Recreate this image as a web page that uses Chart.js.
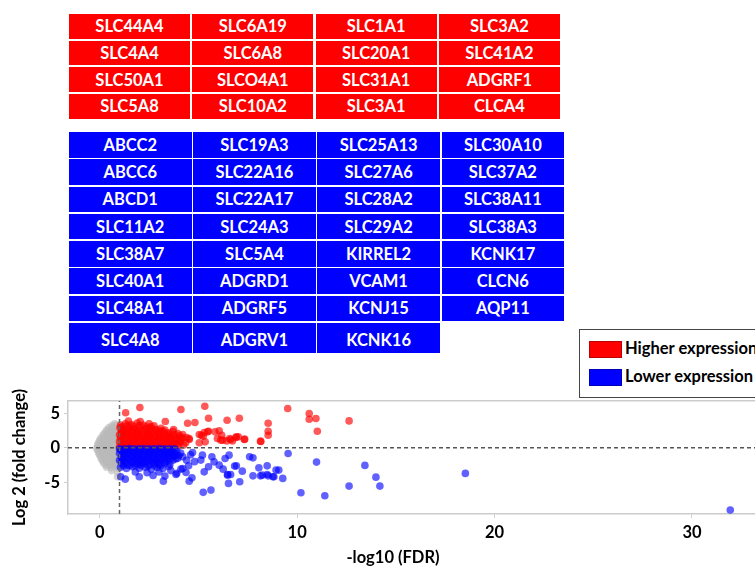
<!DOCTYPE html>
<html>
<head>
<meta charset="utf-8">
<script src="https://cdn.jsdelivr.net/npm/chart.js@4"></script>
<style>
  body { margin: 0; width: 755px; height: 567px; overflow: hidden; background: #fff; font-family: Lato, "Open Sans", sans-serif; position: relative; }
  .genes { position: absolute; left: 69px; display: grid; background: #fff; }
  .genes div { color: #fff; font-weight: bold; font-size: 16.5px; display: flex; align-items: center; justify-content: center; }
  #upTable { top: 14px; grid-template-columns: repeat(4, 121px); grid-template-rows: repeat(4, 24.7px); gap: 2px 2.3px; }
  #upTable div { background: #ff0000; }
  #downTable { top: 132px; grid-template-columns: repeat(4, 122.5px); grid-template-rows: repeat(7, 25.6px) 30px; gap: 1.7px 1.7px; }
  #downTable div { background: #0000ff; }
  #downTable div.last { padding-top: 5px; }
  #legend { position: absolute; left: 579px; top: 329px; width: 200px; height: 67px; border: 1px solid #444; background: #fff; font-weight: bold; font-size: 16.5px; }
  #legend .sw { position: absolute; left: 9px; width: 31px; height: 15px; border: 1px solid rgba(0,0,0,0.25); }
  #legend .lab { position: absolute; left: 45px; }
  #volcano { position: absolute; left: 0; top: 380px; }
  #xTitle { position: absolute; left: 393px; top: 547px; transform: translateX(-50%); font-weight: bold; font-size: 16.5px; }
</style>
</head>
<body>
<div id="upTable" class="genes"></div>
<div id="downTable" class="genes"></div>
<div id="legend">
  <div class="sw" style="top:11px;background:#ff0000"></div><div class="lab" style="top:8px">Higher expression</div>
  <div class="sw" style="top:39px;background:#0000ff"></div><div class="lab" style="top:36px">Lower expression</div>
</div>
<canvas id="volcano" width="800" height="187"></canvas>
<div id="xTitle">-log10 (FDR)</div>
<script>
// gene lists (row by row, 4 per row)
const upGenes = ["SLC44A4","SLC6A19","SLC1A1","SLC3A2",
  "SLC4A4","SLC6A8","SLC20A1","SLC41A2",
  "SLC50A1","SLCO4A1","SLC31A1","ADGRF1",
  "SLC5A8","SLC10A2","SLC3A1","CLCA4"];
const downGenes = ["ABCC2","SLC19A3","SLC25A13","SLC30A10",
  "ABCC6","SLC22A16","SLC27A6","SLC37A2",
  "ABCD1","SLC22A17","SLC28A2","SLC38A11",
  "SLC11A2","SLC24A3","SLC29A2","SLC38A3",
  "SLC38A7","SLC5A4","KIRREL2","KCNK17",
  "SLC40A1","ADGRD1","VCAM1","CLCN6",
  "SLC48A1","ADGRF5","KCNJ15","AQP11",
  "SLC4A8","ADGRV1","KCNK16"];

// volcano points [ -log10(FDR), log2FC ]
const grayPts = [
  [0.6,3.2],[0.85,3.3],[0.75,3.5],[0.45,2.9],[0.7,2.95],
  [0.35,2.6],[0.55,2.7],[0.8,2.5],[0.95,2.8],
  [0.3,2.3],[0.5,2.4],[0.7,2.3],[0.9,2.45],
  [0.2,2.0],[0.4,2.1],[0.6,1.9],[0.8,2.05],[0.95,2.2],
  [0.15,1.75],[0.35,1.8],[0.55,1.65],[0.75,1.7],[0.95,1.8],
  [0.05,1.4],[0.25,1.5],[0.45,1.3],[0.65,1.45],[0.85,1.35],[0.98,1.5],
  [0.0,1.1],[0.2,1.15],[0.4,1.05],[0.6,1.1],[0.8,1.05],[0.97,1.2],
  [-0.05,0.8],[0.15,0.9],[0.35,0.7],[0.55,0.85],[0.75,0.75],[0.92,0.9],
  [-0.1,0.5],[0.1,0.55],[0.3,0.45],[0.5,0.55],[0.7,0.45],[0.9,0.6],
  [-0.12,0.2],[0.08,0.3],[0.3,0.15],[0.5,0.25],[0.7,0.1],[0.9,0.3],
  [-0.15,-0.1],[0.05,-0.05],[0.25,-0.1],[0.45,-0.05],[0.65,-0.15],[0.85,-0.05],
  [-0.1,-0.4],[0.1,-0.3],[0.3,-0.45],[0.5,-0.35],[0.7,-0.5],[0.9,-0.3],
  [-0.05,-0.7],[0.15,-0.75],[0.35,-0.7],[0.55,-0.75],[0.75,-0.7],[0.95,-0.7],
  [-0.02,-1.0],[0.18,-1.1],[0.4,-0.95],[0.6,-1.05],[0.8,-0.9],[0.97,-1.1],
  [0.05,-1.3],[0.25,-1.35],[0.45,-1.3],[0.65,-1.35],[0.85,-1.25],
  [0.08,-1.6],[0.28,-1.7],[0.5,-1.55],[0.7,-1.65],[0.9,-1.5],
  [0.15,-1.9],[0.35,-1.95],[0.55,-1.85],[0.75,-1.95],[0.95,-1.85],
  [0.2,-2.2],[0.42,-2.3],[0.62,-2.15],[0.85,-2.25],[0.98,-2.1],
  [0.3,-2.5],[0.5,-2.55],[0.7,-2.45],[0.9,-2.55],
  [0.35,-2.8],[0.58,-2.9],[0.8,-2.7],[0.95,-3.0],
  [0.6,-3.3],[0.9,-3.5],[0.9,-4.2]
];
const upPts = [
  // dense part
  [1.05,3.3],[1.3,3.5],[1.6,3.4],[1.9,3.6],[2.2,3.3],[2.5,3.5],[2.75,3.2],[1.45,3.9],[2.05,3.8],
  [1.15,3.1],[1.4,3.2],[1.7,3.15],[2.0,3.25],[2.35,3.05],[2.6,3.1],
  [1.02,2.9],[1.25,2.7],[1.5,3.0],[1.75,2.8],[2.0,2.95],[2.3,2.75],[2.55,2.9],[2.85,2.7],[3.1,2.85],[3.3,2.6],
  [1.15,2.55],[1.4,2.6],[1.7,2.65],[1.95,2.55],[2.25,2.6],[2.5,2.5],[2.8,2.55],[3.05,2.5],
  [1.1,2.4],[1.35,2.2],[1.6,2.5],[1.85,2.3],[2.1,2.45],[2.4,2.2],[2.65,2.4],[2.95,2.25],[3.2,2.4],[3.45,2.2],[3.7,2.35],
  [1.1,2.1],[1.35,2.05],[1.6,2.15],[1.9,2.1],[2.15,2.0],[2.45,2.05],[2.75,2.1],[3.0,2.05],[3.3,2.1],[3.55,2.0],
  [1.0,1.9],[1.2,1.75],[1.45,2.0],[1.7,1.8],[1.95,1.95],[2.2,1.7],[2.5,1.9],[2.8,1.75],[3.05,1.95],[3.3,1.8],[3.55,1.7],[3.8,1.9],[4.05,1.75],
  [1.15,1.6],[1.4,1.65],[1.65,1.55],[1.9,1.6],[2.25,1.55],[2.5,1.65],[2.75,1.5],[3.0,1.6],[3.3,1.55],[3.55,1.6],[3.85,1.55],
  [1.05,1.4],[1.3,1.25],[1.55,1.5],[1.8,1.3],[2.05,1.45],[2.35,1.2],[2.6,1.4],[2.9,1.25],[3.15,1.5],[3.4,1.3],[3.65,1.45],[3.9,1.2],[4.15,1.35],[4.4,1.5],
  [1.15,1.1],[1.4,1.05],[1.7,1.1],[1.95,1.15],[2.2,1.05],[2.45,1.1],[2.75,1.05],[3.0,1.15],[3.25,1.1],[3.5,1.05],[3.8,1.1],[4.05,1.05],
  [1.0,0.9],[1.25,0.75],[1.5,1.0],[1.75,0.8],[2.0,0.95],[2.25,0.7],[2.55,0.9],[2.8,0.75],[3.05,1.0],[3.35,0.8],[3.6,0.95],[3.85,0.7],[4.1,0.9],[4.35,0.75],
  [1.15,0.6],[1.4,0.55],[1.7,0.65],[1.95,0.6],[2.3,0.55],[2.6,0.6],[2.9,0.55],[3.15,0.65],[3.45,0.6],[3.7,0.55],[3.95,0.6],
  [1.1,0.4],[1.35,0.25],[1.6,0.5],[1.9,0.3],[2.15,0.45],[2.45,0.2],[2.7,0.4],[3.0,0.3],[3.25,0.5],[3.5,0.25],[3.75,0.45],[4.0,0.3],[4.25,0.4],
  [1.0,0.15],[1.25,0.12],[1.5,0.15],[1.75,0.1],[2.05,0.15],[2.3,0.12],[2.6,0.15],[2.85,0.1],[3.15,0.15],[3.4,0.12],[3.65,0.1],
  // scattered
  [1.31,5.1],[2.03,5.85],[4.11,5.56],[5.32,6.04],[3.32,3.83],[4.45,3.58],[4.82,3.68],[5.51,4.3],[6.45,4.01],[7.07,4.3],
  [8.53,3.58],[8.53,2.42],[8.53,1.84],[8.16,0.93],[9.52,5.71],[10.61,4.99],[10.61,4.16],[10.95,4.26],[11.02,2.42],[12.63,3.91],
  [3.74,2.67],[3.95,2.09],[4.17,1.5],[4.53,1.22],[5.04,1.94],[5.24,1.7],[5.46,2.32],[5.84,2.32],[6.05,2.46],[6.18,1.84],
  [6.22,1.12],[6.43,1.01],[6.63,1.22],[6.89,1.5],[7.02,1.6],[7.32,1.22],[5.04,0.73],[5.34,0.87],[4.2,1.94],[4.53,1.36],
  [5.15,1.84],[5.29,2.23],[5.51,2.42],[5.96,1.36],[6.13,1.12],[6.58,1.36],[6.72,1.01],[6.92,1.6],[7.34,1.26],[8.14,0.97]
];
const downPts = [
  // dense part
  [1.0,-0.12],[1.25,-0.15],[1.5,-0.1],[1.75,-0.12],[2.0,-0.15],[2.25,-0.1],[2.5,-0.12],[2.75,-0.15],[3.0,-0.1],[3.3,-0.12],[3.55,-0.15],[3.8,-0.12],
  [1.05,-0.3],[1.3,-0.45],[1.55,-0.2],[1.8,-0.4],[2.05,-0.25],[2.35,-0.5],[2.6,-0.3],[2.9,-0.45],[3.15,-0.2],[3.4,-0.4],[3.65,-0.3],[3.9,-0.5],
  [1.15,-0.6],[1.4,-0.55],[1.65,-0.6],[1.95,-0.55],[2.2,-0.6],[2.45,-0.65],[2.7,-0.6],[3.0,-0.55],[3.25,-0.6],[3.5,-0.6],[3.75,-0.65],
  [1.0,-0.8],[1.25,-0.95],[1.5,-0.7],[1.75,-0.9],[2.0,-0.75],[2.3,-1.0],[2.55,-0.8],[2.8,-0.95],[3.1,-0.7],[3.35,-0.9],[3.6,-0.8],[3.85,-1.0],[4.1,-0.75],
  [1.15,-1.1],[1.4,-1.05],[1.65,-1.15],[1.9,-1.1],[2.15,-1.05],[2.45,-1.15],[2.7,-1.1],[2.95,-1.05],[3.25,-1.1],[3.5,-1.15],[3.75,-1.05],[4.0,-1.1],
  [1.1,-1.3],[1.35,-1.45],[1.6,-1.2],[1.85,-1.4],[2.1,-1.25],[2.4,-1.5],[2.65,-1.3],[2.95,-1.45],[3.2,-1.2],[3.45,-1.4],[3.7,-1.25],[3.95,-1.5],[4.2,-1.3],
  [1.15,-1.6],[1.4,-1.55],[1.7,-1.6],[1.95,-1.55],[2.2,-1.65],[2.45,-1.6],[2.75,-1.55],[3.0,-1.6],[3.3,-1.55],[3.55,-1.65],[3.85,-1.6],
  [1.0,-1.8],[1.25,-1.95],[1.5,-1.7],[1.8,-1.9],[2.05,-1.75],[2.3,-2.0],[2.6,-1.8],[2.85,-1.95],[3.1,-1.7],[3.4,-1.9],[3.7,-1.8],
  [1.1,-2.05],[1.35,-2.1],[1.6,-2.05],[1.9,-2.15],[2.15,-2.1],[2.45,-2.05],[2.7,-2.1],[3.0,-2.15],[3.25,-2.05],
  [1.15,-2.3],[1.4,-2.45],[1.7,-2.2],[1.95,-2.4],[2.2,-2.25],[2.5,-2.5],[2.75,-2.3],[3.0,-2.45],[3.3,-2.2],[3.55,-2.4],
  [1.2,-2.6],[1.5,-2.55],[1.8,-2.6],[2.1,-2.55],[2.45,-2.65],[2.8,-2.6],[3.1,-2.55],
  [1.05,-2.8],[1.35,-3.0],[1.65,-2.75],[2.0,-2.95],[2.3,-2.8],[2.6,-3.1],[2.9,-2.85],[3.2,-3.0],[3.5,-2.7],
  // scattered
  [1.06,-4.2],[1.29,-4.54],[1.8,-3.5],[2.0,-4.2],[2.4,-3.6],[2.7,-4.0],[3.0,-3.5],[3.3,-4.1],[3.6,-3.3],[3.9,-3.7],
  [4.2,-3.0],[4.5,-2.6],[4.8,-2.0],[4.4,-1.8],[4.6,-1.0],[3.22,-4.83],[3.86,-3.86],[4.11,-3.09],[4.37,-3.57],[4.53,-4.83],
  [4.67,-4.35],[4.7,-0.67],[5.2,-1.06],[5.12,-1.78],[5.68,-1.3],[5.79,-2.03],[5.51,-2.75],[5.29,-3.48],[6.05,-2.51],[6.25,-3.09],
  [6.47,-3.86],[6.63,-3.86],[6.52,-5.16],[6.35,-1.54],[6.55,-1.06],[6.92,-2.61],[7.09,-4.93],[7.22,-3.38],[7.59,-1.3],[7.76,-1.45],
  [7.76,-4.06],[8.06,-2.9],[8.23,-3.96],[8.48,-2.61],[8.48,-3.86],[8.77,-4.2],[8.93,-3.23],[9.27,-4.43],[9.54,-0.81],[5.24,-6.46],
  [5.63,-6.13],[9.07,-3.23],[10.98,-2.07],[10.19,-6.52],[11.4,-6.96],[12.63,-5.55],[13.43,-2.55],[13.99,-4.25],[14.19,-5.55],[18.52,-3.71],
  [31.94,-9.03],[6.48,-3.96],[6.83,-2.65],[8.14,-4.06],[8.53,-4.06],[8.82,-4.2]
];

// axis settings
const xTicks = [0, 10, 20, 30];
const yTicks = [-5, 0, 5];
const xRange = [-1.61, 35.27];
const yRange = [-9.6, 6.8];
const fdrCut = 1;   // -log10(0.1)

// fill gene tables
function fillTable(id, genes) {
  const el = document.getElementById(id);
  genes.forEach(function (g, i) {
    const d = document.createElement("div");
    d.textContent = g;
    if (id == "downTable" && i >= 28) d.className = "last";
    el.appendChild(d);
  });
}
fillTable("upTable", upGenes);
fillTable("downTable", downGenes);

const toXY = (arr) => arr.map(p => ({ x: p[0], y: p[1] }));
const tickFont = { family: "Lato", weight: "bold", size: 16.5 };

new Chart(document.getElementById("volcano"), {
  type: "scatter",
  data: {
    datasets: [
      // threshold lines
      { data: [{ x: xRange[0], y: 0 }, { x: xRange[1], y: 0 }], showLine: true, borderColor: "#555", borderWidth: 1.5, borderDash: [4, 3], pointRadius: 0, order: 0 },
      { data: [{ x: fdrCut, y: yRange[0] }, { x: fdrCut, y: yRange[1] }], showLine: true, borderColor: "#666", borderWidth: 1.5, borderDash: [4, 3], pointRadius: 0, order: 0 },
      { data: toXY(grayPts), backgroundColor: "rgba(185,185,185,0.6)", borderWidth: 0, pointRadius: 3.8, order: 3 },
      { data: toXY(upPts), backgroundColor: "rgba(255,0,0,0.65)", borderWidth: 0, pointRadius: 3.8, order: 2 },
      { data: toXY(downPts), backgroundColor: "rgba(0,0,255,0.62)", borderWidth: 0, pointRadius: 3.8, order: 1 }
    ]
  },
  options: {
    responsive: false,
    animation: false,
    layout: { padding: { top: 21, right: 0, bottom: 0, left: 0 } },
    plugins: { legend: { display: false }, tooltip: { enabled: false } },
    scales: {
      x: {
        type: "linear", min: xRange[0], max: xRange[1],
        afterBuildTicks: (s) => { s.ticks = xTicks.map(v => ({ value: v })); },
        afterFit: (s) => { s.height = 53; },
        grid: { drawOnChartArea: false, tickLength: 4, color: "#ccc" },
        border: { color: "#ccc", width: 1.5 },
        ticks: { color: "#000", font: tickFont, padding: 5 }
      },
      x2: {
        type: "linear", position: "top", display: true,
        afterFit: (s) => { s.height = 0; },
        grid: { display: false },
        ticks: { display: false },
        border: { color: "#ccc", width: 1.5 }
      },
      y: {
        min: yRange[0], max: yRange[1],
        afterBuildTicks: (s) => { s.ticks = yTicks.map(v => ({ value: v })); },
        afterFit: (s) => { s.width = 68; },
        grid: { drawOnChartArea: false, tickLength: 4, color: "#ccc" },
        border: { color: "#ccc", width: 1.5 },
        ticks: { color: "#000", font: tickFont, padding: 4 },
        title: { display: true, text: "Log 2 (fold change)", color: "#000", font: tickFont, padding: { top: 10, bottom: 0 } }
      }
    }
  }
});
</script>
</body>
</html>
